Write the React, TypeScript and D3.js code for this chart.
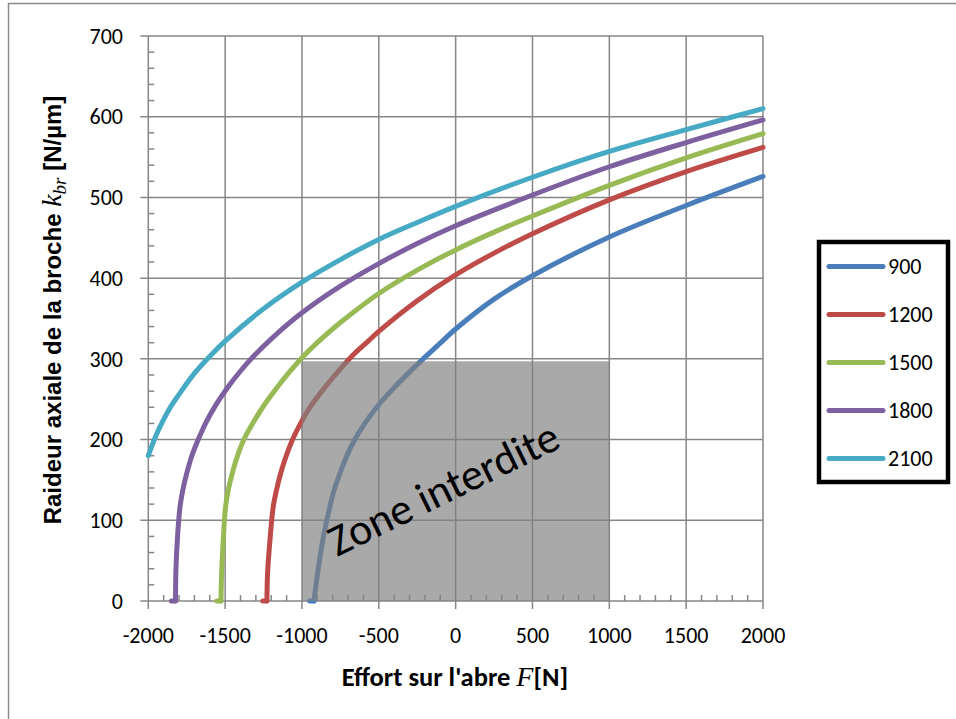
import React from 'react';
import * as d3 from 'd3';

const W = 956;
const H = 719;

const xTicks = [-2000, -1500, -1000, -500, 0, 500, 1000, 1500, 2000];
const yTicks = [0, 100, 200, 300, 400, 500, 600, 700];
const xMinor = d3.range(-2000, 2001, 100);
const yMinor = d3.range(0, 701, 20);

const seriesNames = ['900', '1200', '1500', '1800', '2100'];
const seriesColors = ['#4a7ebb', '#be4b48', '#98b954', '#7d60a0', '#46aac5'];

const f900 = [-950, -922, -894, -862, -818, -790, -753, -710, -656, -591, -510, -417, -309, -194, -81, 0, 250, 500, 1000, 1500, 2000];
const k900 = [0, 0, 40, 78, 117, 138, 158, 179, 200, 220, 241, 261, 282, 303, 323, 337, 374, 403, 451, 490, 526];

const f1200 = [-1255, -1228, -1224, -1208, -1187, -1165, -1139, -1104, -1061, -1009, -944, -866, -775, -677, -569, -500, -250, 0, 250, 500, 1000, 1500, 2000];
const k1200 = [0, 0, 34, 76, 117, 138, 158, 179, 200, 220, 241, 261, 282, 303, 322, 334, 372, 404, 431, 455, 497, 532, 562];

const f1500 = [-1555, -1527, -1523, -1512, -1497, -1479, -1451, -1421, -1378, -1321, -1252, -1176, -1089, -992, -872, -750, -500, -250, 0, 250, 500, 1000, 1500, 2000];
const k1500 = [0, 0, 34, 76, 117, 138, 160, 179, 200, 220, 241, 261, 282, 303, 325, 345, 381, 410, 435, 457, 477, 515, 549, 579];

const f1800 = [-1850, -1823, -1820, -1809, -1794, -1776, -1750, -1718, -1675, -1625, -1560, -1486, -1404, -1306, -1187, -1000, -750, -500, -250, 0, 500, 1000, 1500, 2000];
const k1800 = [0, 0, 40, 82, 116, 137, 158, 179, 200, 221, 243, 264, 284, 305, 327, 357, 390, 418, 443, 465, 503, 538, 568, 596];

const f2100 = [-2000, -1950, -1900, -1850, -1800, -1700, -1600, -1500, -1250, -1000, -750, -500, -250, 0, 500, 1000, 1500, 2000];
const k2100 = [180, 205, 225, 242, 256, 282, 303, 322, 362, 395, 423, 448, 469, 489, 525, 557, 584, 610];

const seriesF = [f900, f1200, f1500, f1800, f2100];
const seriesK = [k900, k1200, k1500, k1800, k2100];

const zoneF = [-1000, 1000];
const zoneK = [0, 297];

const tickFont = 'Carlito, Lato, sans-serif';

export default function App() {
  const x = d3.scaleLinear().domain([-2000, 2000]).range([148.3, 763]);
  const y = d3.scaleLinear().domain([0, 700]).range([601, 36]);
  const smooth = d3
    .line<[number, number]>()
    .x((d) => x(d[0]))
    .y((d) => y(d[1]))
    .curve(d3.curveCatmullRom.alpha(0.5));
  const straight = d3
    .line<[number, number]>()
    .x((d) => x(d[0]))
    .y((d) => y(d[1]));

  const grid = '#868686';
  const x0 = x(-2000);
  const x1 = x(2000);
  const y0 = y(0);
  const yTop = y(700);

  return (
    <svg
      width={W}
      height={H}
      style={{ position: 'absolute', left: 0, top: 0, background: '#fff' }}
      xmlns="http://www.w3.org/2000/svg"
    >
      <rect x={0} y={0} width={W} height={H} fill="#fff" />
      <rect x={8.5} y={3.5} width={970} height={740} fill="none" stroke="#8a8a8a" strokeWidth={1.5} />

      {yTicks.map((t) => (
        <line key={'hy' + t} x1={x0 - 8} x2={x1} y1={y(t)} y2={y(t)} stroke={grid} strokeWidth={1.5} />
      ))}
      {xTicks.map((t) => (
        <line key={'vx' + t} x1={x(t)} x2={x(t)} y1={yTop} y2={y0 + 8} stroke={grid} strokeWidth={1.5} />
      ))}
      {yMinor.filter((t) => t % 100 !== 0).map((t) => (
        <line key={'my' + t} x1={x0} x2={x0 + 6} y1={y(t)} y2={y(t)} stroke={grid} strokeWidth={1.5} />
      ))}
      {xMinor.filter((t) => t % 500 !== 0).map((t) => (
        <line key={'mx' + t} x1={x(t)} x2={x(t)} y1={y0} y2={y0 - 6} stroke={grid} strokeWidth={1.5} />
      ))}

      {seriesF.map((fs, i) => {
        const pts = fs.map((f, j) => [f, seriesK[i][j]] as [number, number]);
        const hasFlat = pts[0][1] === 0;
        const flat = hasFlat ? pts.slice(0, 2) : [];
        const rest = hasFlat ? pts.slice(1) : pts;
        return (
          <g key={'s' + i}>
            {flat.length > 0 && (
              <path
                d={straight(flat) || ''}
                fill="none"
                stroke={seriesColors[i]}
                strokeWidth={5}
                strokeLinecap="round"
              />
            )}
            <path
              d={smooth(rest) || ''}
              fill="none"
              stroke={seriesColors[i]}
              strokeWidth={5}
              strokeLinecap="round"
              strokeLinejoin="round"
            />
          </g>
        );
      })}

      <rect
        x={x(zoneF[0])}
        y={y(zoneK[1])}
        width={x(zoneF[1]) - x(zoneF[0])}
        height={y(zoneK[0]) - y(zoneK[1])}
        fill="#808080"
        fillOpacity={0.68}
      />
      <text
        transform={`translate(337,557) rotate(-26)`}
        fontFamily={tickFont}
        fontSize={44}
        fill="#000"
      >
        Zone interdite
      </text>

      {yTicks.map((t) => (
        <text
          key={'ly' + t}
          x={123}
          y={y(t)}
          dy="0.35em"
          textAnchor="end"
          fontFamily={tickFont}
          fontSize={22}
          fill="#000"
        >
          {t}
        </text>
      ))}
      {xTicks.map((t) => (
        <text
          key={'lx' + t}
          x={x(t)}
          y={643}
          textAnchor="middle"
          fontFamily={tickFont}
          fontSize={22}
          fill="#000"
        >
          {t}
        </text>
      ))}

      <text x={455} y={686} textAnchor="middle" fontFamily={tickFont} fontWeight="bold" fontSize={26.5} fill="#000">
        <tspan>Effort sur l'abre </tspan>
        <tspan fontFamily="'Liberation Serif', serif" fontStyle="italic" fontWeight="normal" fontSize={28}>F</tspan>
        <tspan>[N]</tspan>
      </text>
      <text
        transform="translate(61,310) rotate(-90)"
        textAnchor="middle"
        fontFamily="'Liberation Sans', Arial, sans-serif"
        fontWeight="bold"
        fontSize={24}
        fill="#000"
      >
        <tspan>Raideur axiale de la broche </tspan>
        <tspan fontFamily="'Liberation Serif', serif" fontStyle="italic" fontWeight="normal" fontSize={28}>k</tspan>
        <tspan fontFamily="'Liberation Serif', serif" fontStyle="italic" fontWeight="normal" fontSize={19} dy={5}>br</tspan>
        <tspan dy={-5}> [N/µm]</tspan>
      </text>

      <rect x={819} y={242} width={129} height={240} fill="#fff" stroke="#000" strokeWidth={4.5} />
      {seriesNames.map((n, i) => {
        const ly = 266.5 + i * 48;
        return (
          <g key={'lg' + n}>
            <line x1={829} x2={883} y1={ly} y2={ly} stroke={seriesColors[i]} strokeWidth={5} strokeLinecap="round" />
            <text x={888} y={ly} dy="0.35em" fontFamily={tickFont} fontSize={22} fill="#000">
              {n}
            </text>
          </g>
        );
      })}
    </svg>
  );
}
